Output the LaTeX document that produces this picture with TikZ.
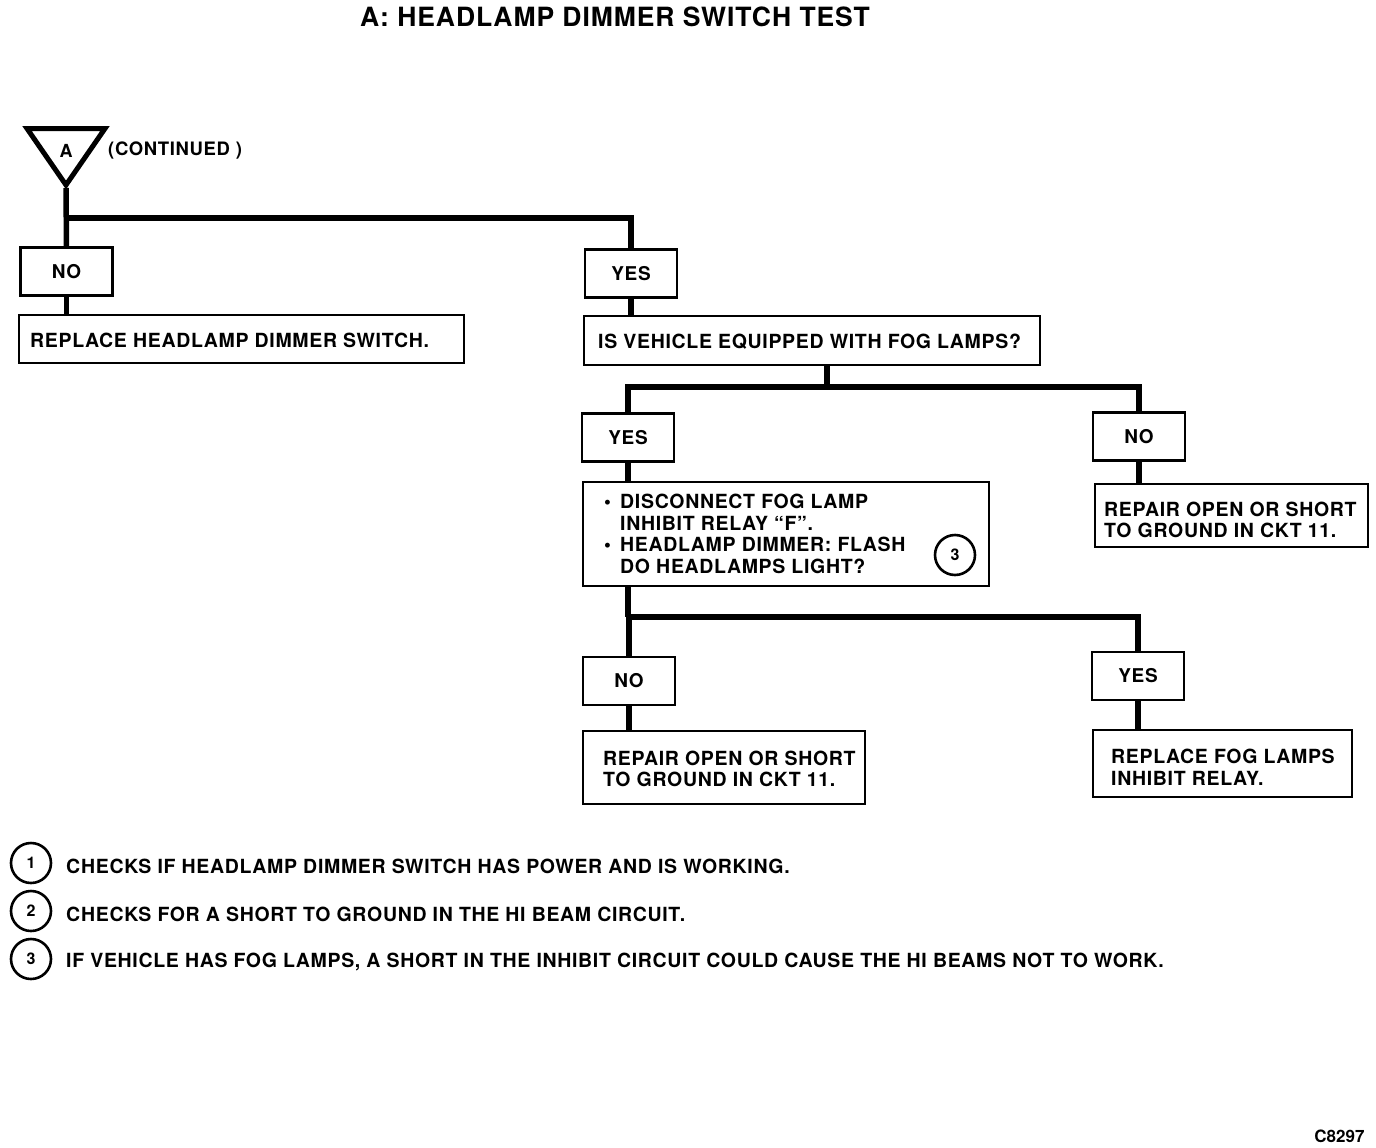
\documentclass[tikz,border=0pt]{standalone}
\usepackage{fontspec}
\setmainfont{TeX Gyre Heros}
\newfontfamily\chartfont[LetterSpace=3.5]{TeX Gyre Heros}
\tikzset{
  box/.style={draw, line width=2.6pt, inner sep=0pt},
  small/.style={box, minimum width=92pt, minimum height=48pt, font=\chartfont\bfseries\fontsize{19}{22}\selectfont},
  txt/.style={inner sep=0pt, align=left, font=\chartfont\bfseries\fontsize{19.5}{21.7}\selectfont},
  conn/.style={line width=5.5pt},
  num/.style={draw, circle, line width=2.6pt, minimum size=40pt, inner sep=0pt, font=\bfseries\fontsize{16}{16}\selectfont},
}
\begin{document}
\begin{tikzpicture}[x=1pt, y=-1pt]
  \useasboundingbox (0,0) rectangle (1376,1148);
  \node (title)[font=\chartfont\bfseries\fontsize{26.5}{30}\selectfont] at (615,17) {A: HEADLAMP DIMMER SWITCH TEST};
  % continuation triangle
  \draw[line width=5pt, line join=miter] (27,128.5) -- (105,128.5) -- (66,185) -- cycle;
  \coordinate (apex) at (66,188);
  \node (A)[font=\bfseries\fontsize{18}{18}\selectfont] at (66,151) {A};
  \node (cont)[anchor=west, inner sep=0pt, font=\chartfont\bfseries\fontsize{18.5}{18}\selectfont] at (108,150) {(CONTINUED )};
  % answer boxes
  \node (no1)[small] at (66.5,271.5) {NO};
  \node (yes1)[small] at (631,273.5) {YES};
  \node (yes2)[small] at (628,437.5) {YES};
  \node (no2)[small] at (1139,436.5) {NO};
  \node (no3)[small] at (629,681) {NO};
  \node (yes3)[small] at (1138,676) {YES};
  % action boxes
  \node (repl)[box, minimum width=445pt, minimum height=48pt] at (241.5,339) {};
  \node (repl-t)[txt, anchor=west] at (30,340) {REPLACE HEADLAMP DIMMER SWITCH.};
  \node (qfog)[box, minimum width=456pt, minimum height=49pt] at (812,340.5) {};
  \node (qfog-t)[txt, anchor=west] at (598,342) {IS VEHICLE EQUIPPED WITH FOG LAMPS?};
  \node (act)[box, minimum width=406pt, minimum height=104pt] at (786,534) {};
  \node (act-t)[txt, anchor=west] at (604,534) {%
    \makebox[16pt][l]{\textbullet}DISCONNECT FOG LAMP\\
    \hspace*{16pt}INHIBIT RELAY “F”.\\
    \makebox[16pt][l]{\textbullet}HEADLAMP DIMMER: FLASH\\
    \hspace*{16pt}DO HEADLAMPS LIGHT?};
  \node (c3)[num] at (955,555) {3};
  \node (rep1)[box, minimum width=273pt, minimum height=63pt] at (1231.5,515.5) {};
  \node (rep1-t)[txt, anchor=west] at (1104,520) {REPAIR OPEN OR SHORT\\TO GROUND IN CKT 11.};
  \node (rep2)[box, minimum width=282pt, minimum height=73pt] at (724,767.5) {};
  \node (rep2-t)[txt, anchor=west] at (603,769) {REPAIR OPEN OR SHORT\\TO GROUND IN CKT 11.};
  \node (rep3)[box, minimum width=259pt, minimum height=67pt] at (1222.5,763.5) {};
  \node (rep3-t)[txt, anchor=west] at (1111,767.5) {REPLACE FOG LAMPS\\INHIBIT RELAY.};
  % connectors
  \coordinate (j1) at (66,218);
  \coordinate (j2) at (827,387);
  \coordinate (j3) at (628,617);
  \draw[conn] (apex) -- (no1.north);
  \draw[conn] (j1) -| (yes1.north);
  \draw[conn] (no1.south) -- (no1.south |- repl.north);
  \draw[conn] (yes1.south) -- (yes1.south |- qfog.north);
  \draw[conn] (j2 |- qfog.south) -- (j2);
  \draw[conn] (yes2.north) |- (j2) -| (no2.north);
  \draw[conn] (yes2.south) -- (yes2.south |- act.north);
  \draw[conn] (no2.south) -- (no2.south |- rep1.north);
  \draw[conn] (j3 |- act.south) -- (j3);
  \draw[conn] (no3.north) |- (j3) -| (yes3.north);
  \draw[conn] (no3.south) -- (no3.south |- rep2.north);
  \draw[conn] (yes3.south) -- (yes3.south |- rep3.north);
  % notes
  \foreach \y/\n/\t in {863/1/{CHECKS IF HEADLAMP DIMMER SWITCH HAS POWER AND IS WORKING.},
                        911/2/{CHECKS FOR A SHORT TO GROUND IN THE HI BEAM CIRCUIT.},
                        959/3/{IF VEHICLE HAS FOG LAMPS, A SHORT IN THE INHIBIT CIRCUIT COULD CAUSE THE HI BEAMS NOT TO WORK.}}{%
    \node (n\n)[num] at (31,\y) {\n};
    \node (t\n)[txt, anchor=west] at (66,\y+3) {\t};
  }
  \node (code)[anchor=east, font=\bfseries\fontsize{17}{17}\selectfont] at (1368,1136) {C8297};
\end{tikzpicture}
\end{document}
